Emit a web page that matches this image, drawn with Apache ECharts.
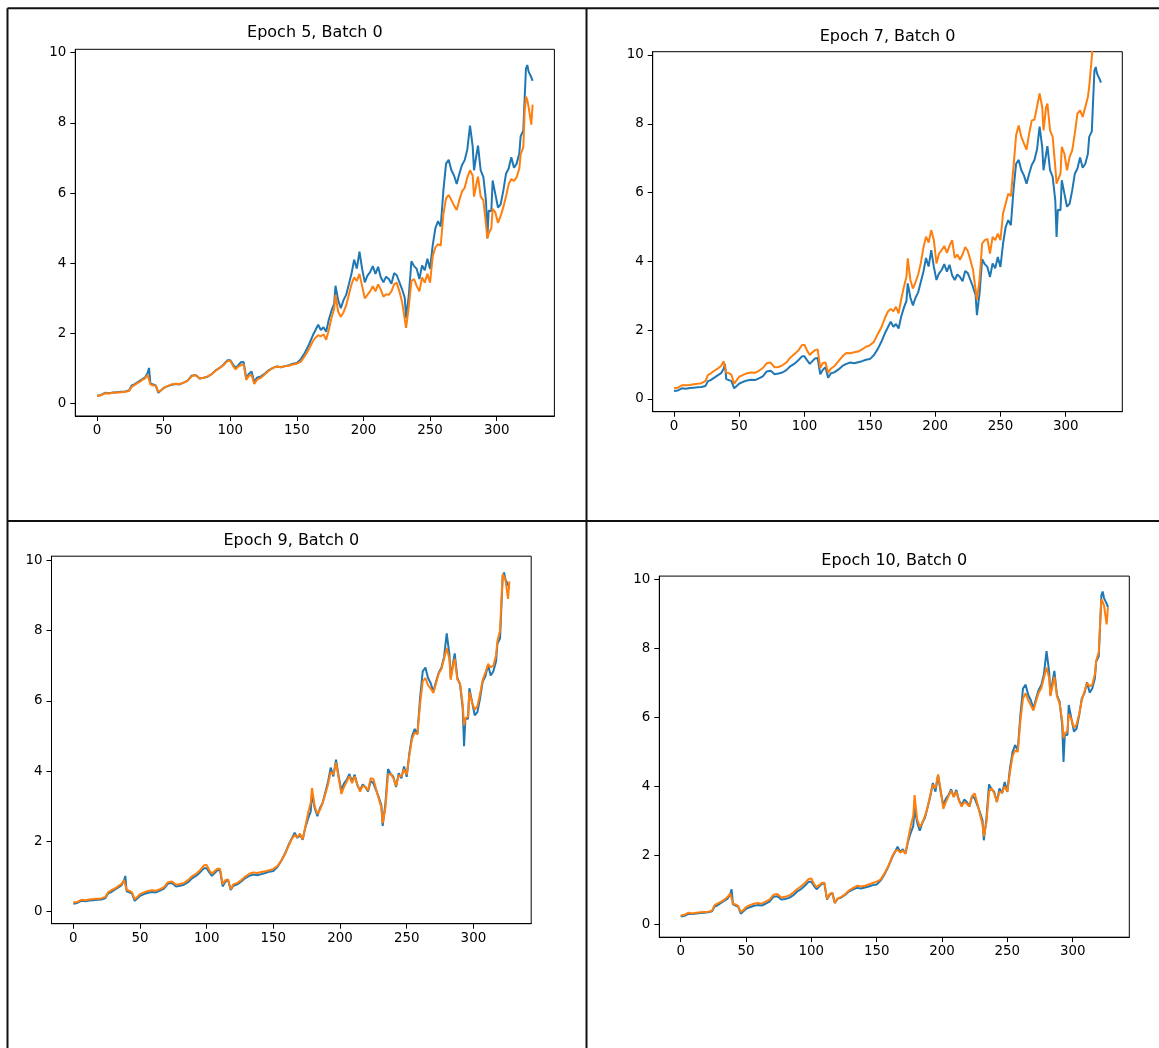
<!DOCTYPE html>
<html>
<head>
<meta charset="utf-8">
<title>Epoch predictions</title>
<script src="https://cdn.jsdelivr.net/npm/echarts@6/dist/echarts.min.js"></script>
<style>
  html, body { margin: 0; padding: 0; background: #ffffff; }
  #chart { width: 1159px; height: 1048px; }
</style>
</head>
<body>
<div id="chart"></div>
<script>
// Time-step indices at which the series are sampled
const steps = [0,3,6,9,12,15,18,21,24,26,28,30,32,34,36,38,39,40,42,44,46,48,50,53,56,59,62,65,68,71,74,77,80,83,86,89,92,95,98,100,102,104,106,108,110,112,114,116,118,120,123,126,129,132,135,138,141,144,147,150,153,156,159,162,164,166,168,170,172,174,176,178,179,181,183,185,187,189,191,193,195,197,199,201,203,205,207,209,211,213,215,217,219,221,223,225,227,229,231,232,234,236,238,240,242,244,246,248,250,252,254,256,258,260,262,264,266,268,270,272,274,276,278,280,282,283,285,286,288,290,292,293,294,296,297,299,301,303,305,307,309,311,313,315,317,318,320,321,322,323,324,325,326,327];

// Actual values (same in every panel)
const actual = [0.23,0.25,0.31,0.30,0.32,0.33,0.34,0.35,0.38,0.52,0.55,0.60,0.65,0.70,0.75,0.88,1.02,0.58,0.55,0.52,0.31,0.38,0.45,0.50,0.54,0.56,0.55,0.60,0.66,0.80,0.82,0.72,0.74,0.77,0.84,0.95,1.02,1.12,1.24,1.24,1.12,1.02,1.10,1.18,1.19,0.72,0.85,0.92,0.62,0.74,0.78,0.86,0.96,1.02,1.06,1.04,1.07,1.10,1.14,1.16,1.27,1.45,1.68,1.95,2.10,2.25,2.10,2.18,2.05,2.40,2.65,2.85,3.36,2.95,2.72,2.95,3.10,3.40,3.70,4.10,3.85,4.33,3.84,3.46,3.65,3.75,3.92,3.70,3.90,3.60,3.46,3.62,3.55,3.42,3.72,3.66,3.46,3.26,3.02,2.44,3.07,4.06,3.92,3.84,3.55,3.94,3.80,4.13,3.84,4.52,5.00,5.20,5.05,6.07,6.84,6.95,6.65,6.50,6.26,6.55,6.80,6.94,7.25,7.92,7.33,6.65,7.13,7.35,6.65,6.46,5.78,4.71,5.50,5.49,6.36,5.97,5.59,5.68,6.07,6.55,6.70,7.02,6.72,6.84,7.13,7.62,7.78,8.68,9.55,9.65,9.46,9.48,9.30,9.20];

// Predicted values after each epoch
const predEpoch5 = [0.22,0.24,0.30,0.29,0.31,0.32,0.33,0.34,0.36,0.48,0.53,0.58,0.62,0.68,0.72,0.82,0.85,0.55,0.52,0.52,0.34,0.38,0.45,0.50,0.55,0.57,0.56,0.60,0.66,0.78,0.82,0.72,0.74,0.78,0.84,0.94,1.02,1.10,1.22,1.22,1.08,0.98,1.06,1.10,1.12,0.68,0.80,0.82,0.56,0.68,0.74,0.84,0.94,1.02,1.06,1.04,1.07,1.08,1.12,1.14,1.20,1.36,1.55,1.78,1.88,1.95,1.92,1.98,1.82,2.10,2.45,2.70,3.10,2.62,2.48,2.60,2.80,3.10,3.40,3.60,3.50,3.70,3.35,3.00,3.10,3.20,3.35,3.20,3.40,3.25,3.05,3.12,3.10,3.20,3.40,3.45,3.20,2.90,2.40,2.16,2.75,3.50,3.55,3.35,3.20,3.60,3.45,3.70,3.45,4.20,4.45,4.55,4.50,5.40,5.85,5.95,5.80,5.65,5.52,5.80,6.05,6.15,6.45,6.65,6.50,5.90,6.30,6.47,5.90,5.80,5.10,4.71,4.85,5.00,5.55,5.45,5.15,5.35,5.60,5.90,6.25,6.40,6.35,6.45,6.70,7.10,7.30,8.30,8.75,8.65,8.45,8.50,7.95,8.52];

const predEpoch7 = [0.31,0.33,0.40,0.40,0.41,0.43,0.44,0.46,0.52,0.70,0.74,0.80,0.85,0.90,0.96,1.10,1.05,0.76,0.75,0.70,0.45,0.55,0.65,0.70,0.75,0.77,0.76,0.82,0.90,1.04,1.06,0.92,0.93,0.98,1.06,1.20,1.30,1.40,1.57,1.57,1.40,1.28,1.36,1.42,1.44,0.90,1.05,1.06,0.76,0.88,0.96,1.10,1.24,1.34,1.33,1.36,1.38,1.44,1.52,1.56,1.66,1.88,2.10,2.40,2.55,2.62,2.55,2.68,2.49,2.90,3.25,3.55,4.09,3.46,3.21,3.40,3.62,3.95,4.40,4.72,4.55,4.91,4.62,3.94,4.23,4.33,4.45,4.25,4.45,4.62,4.10,4.20,4.05,4.20,4.42,4.30,4.04,3.75,3.17,2.88,3.46,4.52,4.62,4.65,4.23,4.71,4.62,4.81,4.62,5.39,5.68,5.97,5.90,6.75,7.67,7.95,7.62,7.43,7.25,7.72,8.10,8.12,8.49,8.88,8.49,7.81,8.49,8.59,7.81,7.62,6.75,6.26,6.36,6.55,7.33,7.13,6.65,7.04,7.23,7.72,8.30,8.39,8.20,8.49,8.78,9.07,9.94,10.40,10.90,11.10,10.90,11.00,10.80,10.60];

const predEpoch9 = [0.26,0.28,0.34,0.33,0.35,0.36,0.37,0.38,0.42,0.55,0.60,0.64,0.68,0.74,0.78,0.90,0.95,0.62,0.60,0.55,0.36,0.42,0.50,0.55,0.59,0.61,0.60,0.64,0.70,0.84,0.86,0.77,0.79,0.82,0.90,1.01,1.08,1.18,1.32,1.33,1.18,1.08,1.16,1.22,1.22,0.78,0.90,0.92,0.64,0.78,0.82,0.90,1.00,1.08,1.12,1.10,1.13,1.15,1.18,1.22,1.30,1.46,1.66,1.92,2.08,2.18,2.12,2.22,2.06,2.42,2.80,3.10,3.52,3.00,2.78,2.90,3.10,3.35,3.62,3.98,3.90,4.25,3.80,3.35,3.55,3.70,3.86,3.66,3.85,3.62,3.42,3.58,3.55,3.45,3.80,3.78,3.50,3.22,2.96,2.52,2.95,3.90,3.92,3.80,3.58,3.88,3.85,4.05,3.90,4.45,4.92,5.10,5.05,5.90,6.55,6.65,6.45,6.35,6.22,6.50,6.78,6.90,7.20,7.50,7.20,6.60,7.05,7.20,6.60,6.50,5.90,5.30,5.50,5.55,6.25,5.95,5.75,5.85,6.20,6.60,6.80,7.05,6.95,7.00,7.30,7.70,8.00,8.85,9.60,9.65,9.45,9.40,8.90,9.40];

const predEpoch10 = [0.26,0.28,0.34,0.32,0.34,0.35,0.36,0.37,0.40,0.56,0.60,0.64,0.68,0.74,0.80,0.90,0.92,0.60,0.58,0.54,0.36,0.42,0.50,0.56,0.60,0.62,0.60,0.66,0.72,0.86,0.88,0.78,0.80,0.84,0.92,1.02,1.10,1.20,1.32,1.33,1.18,1.08,1.14,1.20,1.21,0.74,0.88,0.92,0.62,0.75,0.80,0.88,0.99,1.06,1.12,1.10,1.12,1.16,1.20,1.24,1.30,1.48,1.70,1.98,2.12,2.16,2.08,2.14,2.05,2.45,2.85,3.15,3.75,3.05,2.82,2.95,3.15,3.40,3.75,4.05,3.95,4.35,3.90,3.35,3.55,3.72,3.88,3.70,3.85,3.58,3.42,3.55,3.50,3.42,3.72,3.80,3.52,3.20,2.90,2.55,2.95,3.85,3.95,3.80,3.55,3.85,3.82,4.00,3.85,4.40,4.88,5.05,5.00,5.90,6.55,6.70,6.50,6.35,6.20,6.48,6.72,6.85,7.15,7.45,7.15,6.62,7.00,7.18,6.62,6.40,5.90,5.40,5.55,5.60,6.10,5.95,5.70,5.80,6.10,6.50,6.75,7.00,6.90,6.95,7.25,7.65,7.90,8.70,9.43,9.35,9.25,9.20,8.70,9.20];

// Panel titles and tick labels
const panelTitles = ['Epoch 5, Batch 0', 'Epoch 7, Batch 0', 'Epoch 9, Batch 0', 'Epoch 10, Batch 0'];
const xTicks = [0, 50, 100, 150, 200, 250, 300];
const yTicks = [0, 2, 4, 6, 8, 10];

const predictions = [predEpoch5, predEpoch7, predEpoch9, predEpoch10];

// Plot-area geometry of the four panels (pixels) and their y limits
const panels = [
  { left: 75.3,  top: 49.3,  width: 479.1, height: 366.7, titleX: 314.9, titleY: 25.3,  yMin: -0.350, yMax: 10.097 },
  { left: 652.7, top: 51.7,  width: 469.6, height: 360.0, titleX: 887.5, titleY: 28.7,  yMin: -0.369, yMax: 10.096 },
  { left: 51.5,  top: 556.2, width: 479.7, height: 367.5, titleX: 291.3, titleY: 533.0, yMin: -0.340, yMax: 10.115 },
  { left: 659.3, top: 576.1, width: 470.0, height: 361.1, titleX: 894.3, titleY: 553.3, yMin: -0.370, yMax: 10.098 }
];

const FONT = 'DejaVu Sans';
const BLUE = '#1f77b4';
const ORANGE = '#ff7f0e';

function pairs(values) {
  return steps.map((s, i) => [s, values[i]]);
}

const grids = [], xAxes = [], yAxes = [], series = [], titles = [];

panels.forEach((p, i) => {
  grids.push({
    left: p.left, top: p.top, width: p.width, height: p.height,
    show: true, borderColor: '#000', borderWidth: 1, backgroundColor: '#fff',
    containLabel: false
  });
  xAxes.push({
    type: 'value', gridIndex: i, min: -16.35, max: 343.35,
    axisLine: { show: true, onZero: false, lineStyle: { color: '#000', width: 1 } },
    axisTick: { show: true, length: 5, lineStyle: { color: '#000', width: 1 }, customValues: xTicks },
    axisLabel: { color: '#000', fontFamily: FONT, fontSize: 13.4, margin: 8, customValues: xTicks },
    splitLine: { show: false }
  });
  yAxes.push({
    type: 'value', gridIndex: i, min: p.yMin, max: p.yMax,
    axisLine: { show: true, onZero: false, lineStyle: { color: '#000', width: 1 } },
    axisTick: { show: true, length: 5, lineStyle: { color: '#000', width: 1 }, customValues: yTicks },
    axisLabel: { color: '#000', fontFamily: FONT, fontSize: 13.4, margin: 9, customValues: yTicks },
    splitLine: { show: false }
  });
  series.push({
    type: 'line', xAxisIndex: i, yAxisIndex: i, data: pairs(actual),
    showSymbol: false, symbol: 'none', clip: true,
    lineStyle: { color: BLUE, width: 2 }, itemStyle: { color: BLUE }
  });
  series.push({
    type: 'line', xAxisIndex: i, yAxisIndex: i, data: pairs(predictions[i]),
    showSymbol: false, symbol: 'none', clip: true,
    lineStyle: { color: ORANGE, width: 2 }, itemStyle: { color: ORANGE }
  });
  titles.push({
    text: panelTitles[i], left: p.titleX, top: p.titleY, textAlign: 'center', padding: 0,
    textStyle: { fontFamily: FONT, fontSize: 16, fontWeight: 'normal', color: '#000' }
  });
});

// Table rules separating the four figures
const rule = { stroke: '#111', lineWidth: 2 };
const graphics = [
  { type: 'line', shape: { x1: 7.5, y1: 8.3, x2: 1159, y2: 8.3 }, style: rule, silent: true },
  { type: 'line', shape: { x1: 7.5, y1: 8.3, x2: 7.5, y2: 1048 }, style: rule, silent: true },
  { type: 'line', shape: { x1: 586.5, y1: 8.3, x2: 586.5, y2: 1048 }, style: rule, silent: true },
  { type: 'line', shape: { x1: 7.5, y1: 521, x2: 1159, y2: 521 }, style: rule, silent: true }
];

const chart = echarts.init(document.getElementById('chart'), null, { renderer: 'canvas', width: 1159, height: 1048 });
chart.setOption({
  animation: false,
  backgroundColor: '#ffffff',
  title: titles,
  grid: grids,
  xAxis: xAxes,
  yAxis: yAxes,
  series: series,
  graphic: graphics
});
</script>
</body>
</html>
